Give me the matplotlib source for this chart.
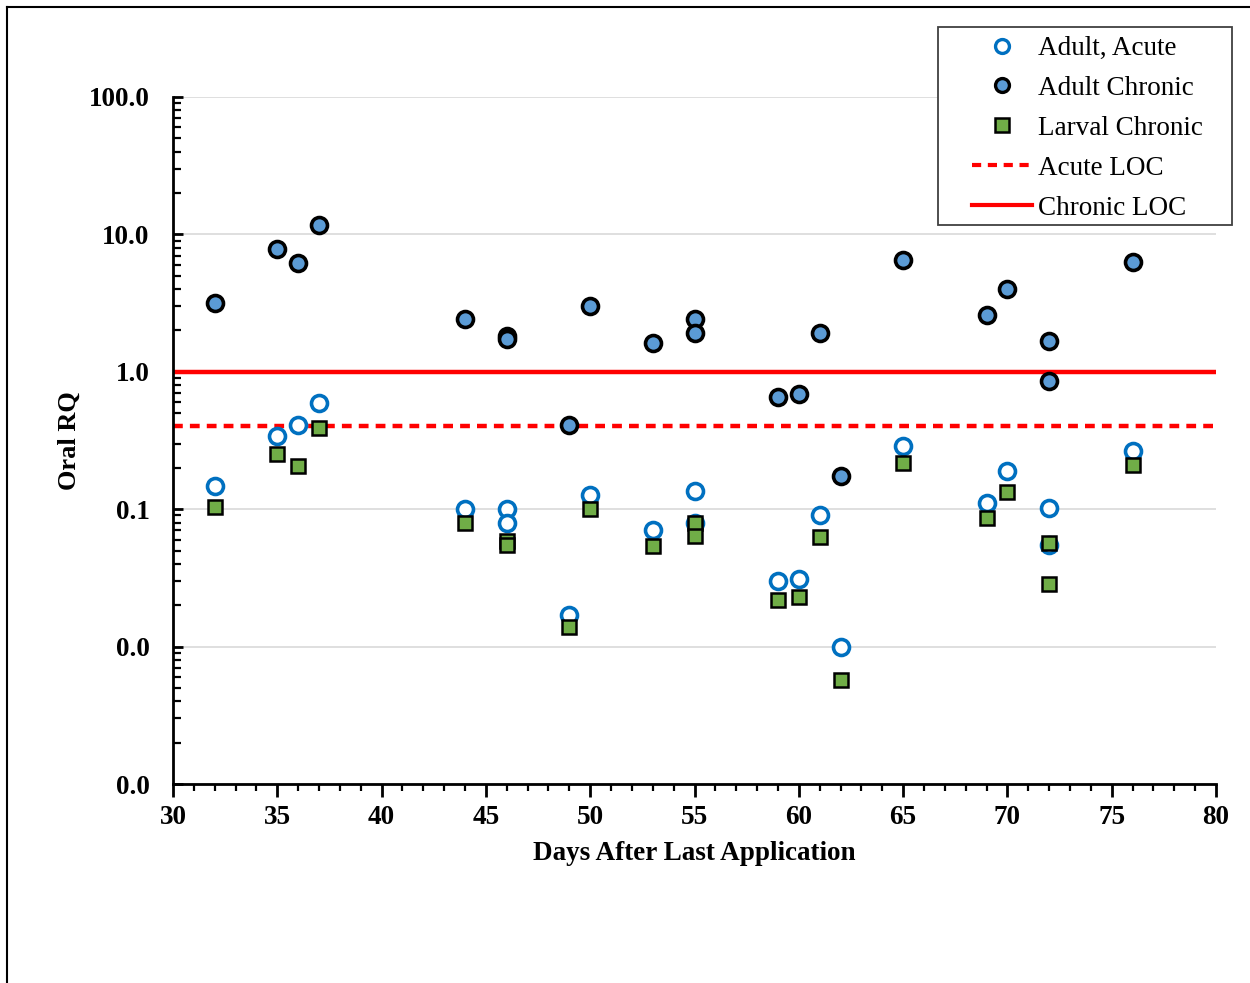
import matplotlib.pyplot as plt
from matplotlib.ticker import FixedLocator, FuncFormatter, LogLocator, MultipleLocator, NullFormatter
from matplotlib.lines import Line2D
from matplotlib.patches import Rectangle

plt.rcParams['font.family'] = ['Liberation Serif', 'DejaVu Serif']

# adult acute RQ (open circles)
acute_days = [32, 35, 36, 37, 44, 46, 46, 49, 50, 53, 55, 55, 59, 60, 61, 62, 65, 69, 70, 72, 72, 76]
acute_rq = [0.148, 0.342, 0.411, 0.595, 0.100, 0.100, 0.080, 0.0170, 0.127, 0.0705, 0.136, 0.080,
            0.0301, 0.0313, 0.0906, 0.0100, 0.288, 0.111, 0.190, 0.102, 0.0548, 0.263]

# adult chronic RQ (filled circles)
chronic_days = [32, 35, 36, 37, 44, 46, 46, 49, 50, 53, 55, 55, 59, 60, 61, 62, 65, 69, 70, 72, 72, 76]
chronic_rq = [3.18, 7.86, 6.21, 11.7, 2.43, 1.83, 1.74, 0.411, 3.02, 1.63, 2.43, 1.92,
              0.658, 0.691, 1.92, 0.173, 6.50, 2.60, 4.00, 1.68, 0.855, 6.29]

# larval chronic RQ (squares)
larval_days = [32, 35, 36, 37, 44, 46, 46, 49, 50, 53, 55, 55, 59, 60, 61, 62, 65, 69, 70, 72, 72, 76]
larval_rq = [0.104, 0.253, 0.207, 0.391, 0.080, 0.0589, 0.0545, 0.0138, 0.100, 0.0542, 0.080, 0.0633,
             0.0219, 0.0228, 0.063, 0.00573, 0.218, 0.0866, 0.134, 0.0563, 0.0285, 0.209]

acute_loc = 0.4
chronic_loc = 1.0
y_ticks = [0.001, 0.01, 0.1, 1, 10, 100]

W, H = 1250, 983
fig = plt.figure(figsize=(W / 100, H / 100), dpi=100)
ax = fig.add_axes([173 / W, 1 - 784 / H, (1216 - 173) / W, (784 - 97) / H])

ax.axhline(chronic_loc, color='#FF0000', lw=3.2, zorder=2)
ax.axhline(acute_loc, color='#FF0000', lw=3.2, ls=(0, (2.2, 1.6)), zorder=2)

ax.plot(chronic_days, chronic_rq, 'o', ms=11.5, mfc='#5B9BD5', mec='black', mew=2.6, zorder=3)
ax.plot(acute_days, acute_rq, 'o', ms=11.5, mfc='white', mec='#0070C0', mew=2.6, zorder=4)
ax.plot(larval_days, larval_rq, 's', ms=10.5, mfc='#70AD47', mec='black', mew=1.8, zorder=5)

ax.set_yscale('log')
ax.set_ylim(0.001, 100)
ax.set_xlim(30, 80)

ax.yaxis.set_major_locator(FixedLocator(y_ticks))
ax.yaxis.set_major_formatter(FuncFormatter(lambda v, p: f'{v:.1f}'))
ax.yaxis.set_minor_locator(LogLocator(base=10, subs=range(2, 10)))
ax.yaxis.set_minor_formatter(NullFormatter())
ax.xaxis.set_major_locator(MultipleLocator(5))
ax.xaxis.set_minor_locator(MultipleLocator(1))

ax.grid(axis='y', which='major', color='#D9D9D9', lw=1.2, zorder=0)
ax.set_axisbelow(True)

for s in ['top', 'right']:
    ax.spines[s].set_visible(False)
for s in ['left', 'bottom']:
    ax.spines[s].set_linewidth(2)
    ax.spines[s].set_zorder(6)

ax.tick_params(axis='y', which='major', direction='in', length=7, width=2, pad=17, labelsize=19.5)
ax.tick_params(axis='y', which='minor', direction='in', length=6, width=1.6)
ax.tick_params(axis='x', which='major', direction='out', length=9, width=2, pad=6, labelsize=19.5)
ax.tick_params(axis='x', which='minor', direction='out', length=5, width=1.6)
for lab in ax.get_xticklabels() + ax.get_yticklabels():
    lab.set_fontweight('bold')

ax.set_xlabel('Days After Last Application', fontsize=19.5, fontweight='bold', va='center')
ax.xaxis.set_label_coords(0.5, (784 - 853) / (784 - 97))
ax.set_ylabel('Oral RQ', fontsize=19, fontweight='bold', va='center')
ax.yaxis.set_label_coords((69 - 173) / (1216 - 173), 0.5)

# legend: frame drawn separately so the padding matches
fig.add_artist(Rectangle((938 / W, 1 - 225 / H), (1232 - 938) / W, (225 - 27) / H,
                         transform=fig.transFigure, fill=True, fc='white', ec='#404040', lw=1.3,
                         zorder=8))
handles = [
    Line2D([], [], ls='none', marker='o', ms=10, mfc='white', mec='#0070C0', mew=2.4),
    Line2D([], [], ls='none', marker='o', ms=10, mfc='#5B9BD5', mec='black', mew=2.4),
    Line2D([], [], ls='none', marker='s', ms=10, mfc='#70AD47', mec='black', mew=1.8),
    Line2D([], [], color='#FF0000', lw=3, ls=(0, (2.2, 1.6))),
    Line2D([], [], color='#FF0000', lw=3),
]
labels = ['Adult, Acute', 'Adult Chronic', 'Larval Chronic', 'Acute LOC', 'Chronic LOC']
leg = fig.legend(handles, labels, loc='upper left', bbox_to_anchor=(972 / W, 1 - 36 / H),
                 fontsize=19.5, frameon=False, handlelength=2.2, handletextpad=0.22,
                 labelspacing=0.55, borderpad=0, borderaxespad=0)
leg.set_zorder(9)

# outer border (top and left only)
fig.add_artist(Line2D([7 / W, 7 / W], [0, 1 - 7 / H], color='black', lw=1.5))
fig.add_artist(Line2D([7 / W, 1], [1 - 7 / H, 1 - 7 / H], color='black', lw=1.5))

fig.savefig('out.png', dpi=100)
